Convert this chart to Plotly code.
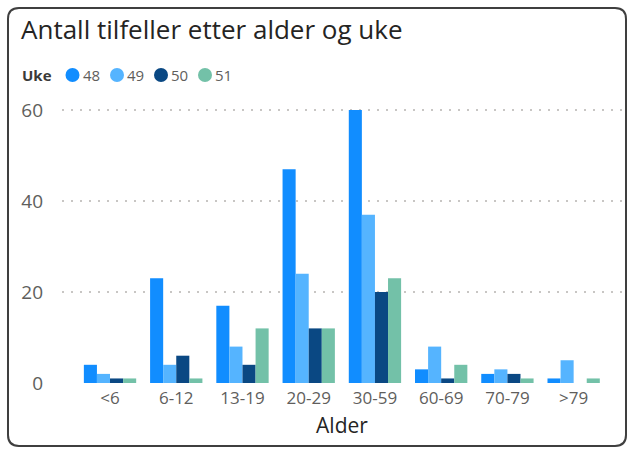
import plotly.graph_objects as go

categories = ["<6", "6-12", "13-19", "20-29", "30-59", "60-69", "70-79", ">79"]
weeks = ["48", "49", "50", "51"]
uke48 = [4, 23, 17, 47, 60, 3, 2, 1]
uke49 = [2, 4, 8, 24, 37, 8, 3, 5]
uke50 = [1, 6, 4, 12, 20, 1, 2, 0]
uke51 = [1, 1, 12, 12, 23, 4, 1, 1]
series = [uke48, uke49, uke50, uke51]
colors = ["#118DFF", "#55B4FF", "#0A4883", "#73C1A8"]
y_ticks = [0, 20, 40, 60]

W, H = 633, 450
ML, MR, MT, MB = 62, 11, 100, 67
PW = W - ML - MR
PH = H - MT - MB


def px_x(px):
    return (px - ML) / PW


def px_y(py):
    return (H - MB - py) / PH


fig = go.Figure()
for name, vals, col in zip(weeks, series, colors):
    fig.add_trace(go.Bar(x=categories, y=vals, name=name, marker_color=col,
                         marker_line_width=0, showlegend=False))

# rounded border
x0, y0, x1, y1, r = 8, 8, 626, 446, 11
pts = [
    ("M", x0 + r, y0), ("L", x1 - r, y0), ("Q", x1, y0, x1, y0 + r),
    ("L", x1, y1 - r), ("Q", x1, y1, x1 - r, y1), ("L", x0 + r, y1),
    ("Q", x0, y1, x0, y1 - r), ("L", x0, y0 + r), ("Q", x0, y0, x0 + r, y0),
]
path = ""
for p in pts:
    cmd = p[0]
    coords = p[1:]
    s = []
    for i in range(0, len(coords), 2):
        s.append(f"{px_x(coords[i]):.5f},{px_y(coords[i+1]):.5f}")
    path += cmd + " ".join(s) + " "
path += "Z"

shapes = [dict(type="path", xref="paper", yref="paper", path=path,
               line=dict(color="#3F3F3F", width=2), fillcolor="rgba(0,0,0,0)", layer="below")]
annotations = [dict(text="<b>Uke</b>", xref="paper", yref="paper", x=px_x(20), y=px_y(75),
                    xanchor="left", yanchor="middle", showarrow=False,
                    font=dict(size=15, color="#3B3A39", family="Open Sans"))]
leg_cx = [72.5, 117, 161, 205]
for cx, name, col in zip(leg_cx, weeks, colors):
    shapes.append(dict(type="circle", xref="paper", yref="paper", xsizemode="pixel", ysizemode="pixel",
                       xanchor=px_x(cx), yanchor=px_y(75), x0=-7, x1=7, y0=-7, y1=7,
                       fillcolor=col, line=dict(width=0)))
    annotations.append(dict(text=name, xref="paper", yref="paper", x=px_x(cx + 8), y=px_y(75),
                            xanchor="left", yanchor="middle", showarrow=False,
                            font=dict(size=15, color="#605E5C", family="Open Sans")))

fig.update_layout(
    width=W, height=H,
    margin=dict(l=ML, r=MR, t=MT, b=MB),
    paper_bgcolor="white", plot_bgcolor="white",
    barmode="group", bargap=0.21, bargroupgap=0,
    title=dict(text="Antall tilfeller etter alder og uke", xref="container", yref="container",
               x=21 / W, y=1 - 30 / H, xanchor="left", yanchor="middle",
               font=dict(size=26, color="#252423", family="Open Sans")),
    font=dict(family="Open Sans", color="#605E5C"),
    shapes=shapes, annotations=annotations,
    xaxis=dict(range=[-0.725, 7.73], showgrid=False, showline=False, zeroline=False,
               tickfont=dict(size=17, color="#605E5C"), ticklabelstandoff=3,
               title=dict(text="Alder", font=dict(size=21, color="#252423"), standoff=10)),
    yaxis=dict(range=[0, 62.2], tickvals=y_ticks, showgrid=True, gridcolor="#C8C6C4",
               griddash="2px,7px", gridwidth=1.5, zeroline=False, showline=False,
               tickfont=dict(size=19, color="#605E5C"), ticklabelstandoff=18),
)

fig.write_html("out.html", config={"displayModeBar": False},
               post_script="document.body.style.margin='0';document.body.style.padding='0';")
